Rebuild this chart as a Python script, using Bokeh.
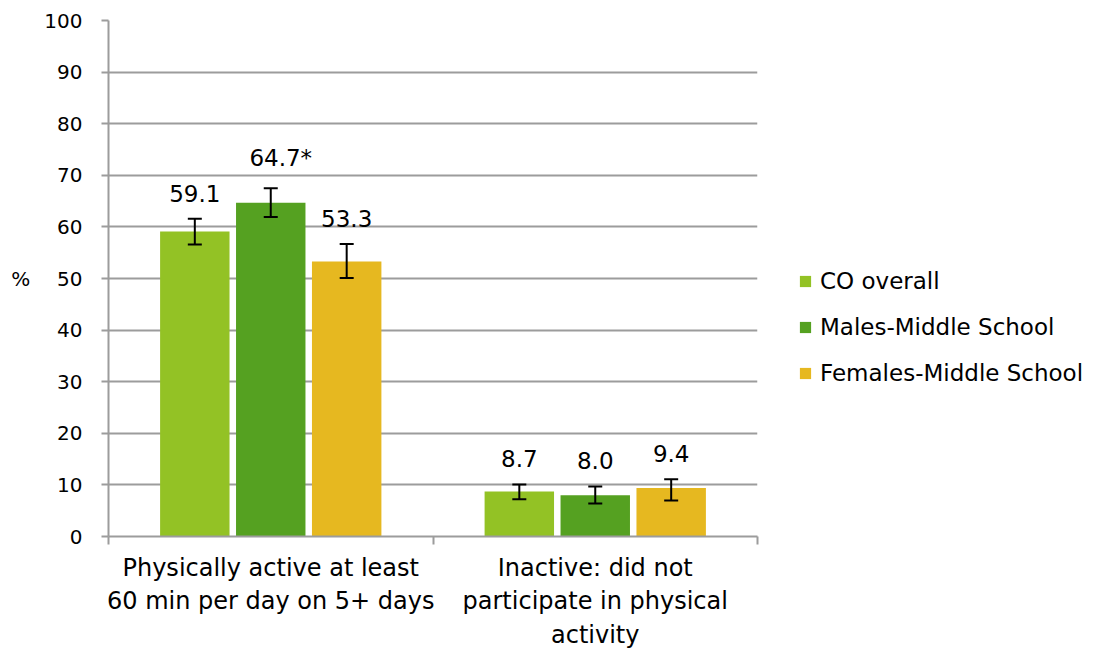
from bokeh.plotting import figure
from bokeh.models import (ColumnDataSource, Range1d, FixedTicker, Whisker, TeeHead,
                          Legend, LegendItem)
from bokeh.transform import dodge
from bokeh.core.properties import value
from bokeh.embed import file_html
from bokeh.resources import INLINE

categories = ["Physically active at least\n60 min per day on 5+ days",
              "Inactive: did not\nparticipate in physical\nactivity"]
series_names = ["CO overall", "Males-Middle School", "Females-Middle School"]
co_overall = [59.1, 8.7]
co_overall_lo = [56.6, 7.2]
co_overall_hi = [61.6, 10.1]
males = [64.7, 8.0]
males_lo = [61.9, 6.4]
males_hi = [67.5, 9.7]
females = [53.3, 9.4]
females_lo = [50.1, 7.0]
females_hi = [56.7, 11.1]
markers_co = ["", ""]
markers_m = ["*", ""]
markers_f = ["", ""]

colors = ["#93C225", "#55A121", "#E6B820"]
FONT = "DejaVu Sans"

p = figure(frame_width=649, frame_height=516, output_backend="svg", toolbar_location=None,
           x_range=Range1d(0, 2), y_range=Range1d(0, 100),
           min_border_left=108, min_border_top=20, min_border_bottom=110, min_border_right=338)
p.outline_line_color = None
p.background_fill_color = "white"

xs = [i + 0.5 for i in range(len(categories))]
offsets = [-0.234, 0.0, 0.234]
series = [(co_overall, co_overall_lo, co_overall_hi, markers_co),
          (males, males_lo, males_hi, markers_m),
          (females, females_lo, females_hi, markers_f)]

items = []
for k, (vals, lo, hi, mk) in enumerate(series):
    src = ColumnDataSource(dict(x=xs, top=vals, lower=lo, upper=hi,
                                label=[f"{v:.1f}{m}" for v, m in zip(vals, mk)],
                                dx=[10 if m else 0 for m in mk]))
    r = p.vbar(x=dodge("x", offsets[k]), top="top", width=0.214, source=src,
               fill_color=colors[k], line_color=None)
    items.append(LegendItem(label=series_names[k], renderers=[r]))
    w = Whisker(base=dodge("x", offsets[k]), lower="lower", upper="upper", source=src,
                line_color="black", line_width=2, level="annotation",
                upper_head=TeeHead(size=14, line_color="black", line_width=2),
                lower_head=TeeHead(size=14, line_color="black", line_width=2))
    p.add_layout(w)
    p.text(x=dodge("x", offsets[k]), y="upper", text="label", source=src,
           x_offset="dx", text_align="center", text_baseline="bottom", y_offset=-17,
           text_font=value(FONT), text_font_size="23px", text_color="black")

# axes
grey = "#9C9C9C"
p.xgrid.visible = False
p.ygrid.grid_line_color = grey
p.ygrid.grid_line_width = 2
p.yaxis.ticker = FixedTicker(ticks=list(range(0, 101, 10)))
p.yaxis.axis_line_color = grey
p.yaxis.axis_line_width = 2
p.yaxis.major_tick_line_color = grey
p.yaxis.major_tick_line_width = 2
p.yaxis.major_tick_out = 7
p.yaxis.major_tick_in = 0
p.yaxis.minor_tick_line_color = None
p.yaxis.major_label_text_font = FONT
p.yaxis.major_label_text_font_size = "20px"
p.yaxis.major_label_text_color = "black"
p.yaxis.major_label_standoff = 19
p.yaxis.axis_label = "%"
p.yaxis.axis_label_text_font = FONT
p.yaxis.axis_label_text_font_size = "20px"
p.yaxis.axis_label_text_font_style = "normal"
p.yaxis.axis_label_text_color = "black"
p.yaxis.axis_label_standoff = 11
if "axis_label_orientation" in p.yaxis[0].properties():
    p.yaxis.axis_label_orientation = "horizontal"

p.xaxis.ticker = FixedTicker(ticks=xs, minor_ticks=list(range(len(categories) + 1)))
p.xaxis.major_label_overrides = {x: c for x, c in zip(xs, categories)}
p.xaxis.axis_line_color = grey
p.xaxis.axis_line_width = 2
p.xaxis.major_tick_out = 0
p.xaxis.major_tick_in = 0
p.xaxis.minor_tick_line_color = grey
p.xaxis.minor_tick_line_width = 2
p.xaxis.minor_tick_out = 8
p.xaxis.minor_tick_in = 0
p.xaxis.major_label_text_font = FONT
p.xaxis.major_label_text_font_size = "24px"
p.xaxis.major_label_text_color = "black"
p.xaxis.major_label_standoff = 9

legend = Legend(items=items, location=(41, 150), orientation="vertical",
                label_text_font=FONT, label_text_font_size="23px", label_text_color="black",
                glyph_width=14, glyph_height=14, label_standoff=8, label_height=20,
                spacing=20, padding=0, margin=0, border_line_color=None,
                background_fill_alpha=0)
p.add_layout(legend, "right")

open("out.html", "w").write(file_html(p, INLINE))
